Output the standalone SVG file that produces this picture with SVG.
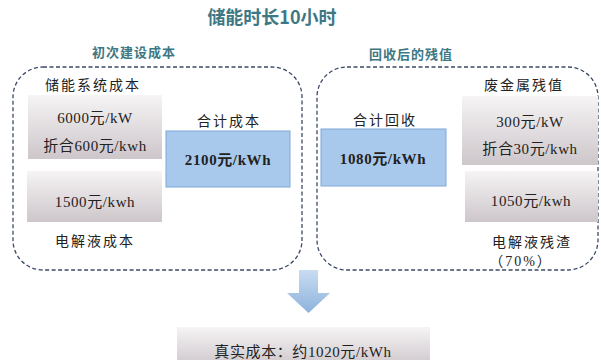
<svg xmlns="http://www.w3.org/2000/svg" width="601" height="360" viewBox="0 0 601 360">
<style>
.title{font-family:"Noto Sans CJK SC",sans-serif;font-weight:bold;fill:#3d7884;font-size:18px;text-anchor:middle}
.sub{font-family:"Noto Sans CJK SC",sans-serif;font-weight:bold;fill:#3d7884;font-size:13px;text-anchor:middle;letter-spacing:1px}
.t{font-family:"Liberation Serif","Noto Sans CJK SC",serif;fill:#222;font-size:15px;text-anchor:middle;letter-spacing:0.6px}
.lbl{font-family:"Liberation Serif","Noto Sans CJK SC",serif;fill:#222;font-size:14px;text-anchor:middle;letter-spacing:2px}
.b{font-weight:bold}
.dash{fill:none;stroke:#3b4a66;stroke-width:1.3;stroke-dasharray:4 2.5}
.gray{fill:url(#gg)}
.blue{fill:#a9c9ec;stroke:#7ea8d8;stroke-width:1}
</style>
<defs>
<linearGradient id="gg" x1="0" y1="0" x2="0" y2="1">
<stop offset="0" stop-color="#f6f4f5"/>
<stop offset="1" stop-color="#cdc6ca"/>
</linearGradient>
<linearGradient id="ag" x1="0" y1="0" x2="0" y2="1">
<stop offset="0" stop-color="#c9dcf1"/>
<stop offset="1" stop-color="#8db2dd"/>
</linearGradient>
</defs>
<rect width="601" height="360" fill="#ffffff"/>
<text class="title" x="272" y="24">储能时长10小时</text>
<text class="sub" x="134" y="57">初次建设成本</text>
<text class="sub" x="411" y="59">回收后的残值</text>

<g id="left-group">
<rect class="dash" x="13" y="67" width="289" height="203" rx="30"/>
<text class="lbl" x="93" y="90">储能系统成本</text>
<text class="lbl" x="95" y="246">电解液成本</text>
</g>
<g id="node-system">
<rect class="gray" x="28" y="95" width="134" height="64"/>
<text class="t" x="95" y="123">6000元/kW</text>
<text class="t" x="95" y="151">折合600元/kwh</text>
</g>
<g id="node-electrolyte">
<rect class="gray" x="27" y="171" width="135" height="51"/>
<text class="t" x="95" y="207">1500元/kwh</text>
</g>
<g id="node-total-cost">
<text class="lbl" x="229" y="126">合计成本</text>
<rect class="blue" x="166" y="131" width="124" height="56"/>
<text class="t b" x="228" y="165">2100元/kWh</text>
</g>

<g id="right-group">
<rect class="dash" x="317" y="67" width="281" height="203" rx="30"/>
<text class="lbl" x="524" y="90">废金属残值</text>
<text class="lbl" x="532" y="247">电解液残渣</text>
<text class="lbl" x="521" y="266">（70%）</text>
</g>
<g id="node-total-recover">
<text class="lbl" x="385" y="125">合计回收</text>
<rect class="blue" x="321" y="129" width="125" height="57"/>
<text class="t b" x="383" y="164">1080元/kWh</text>
</g>
<g id="node-metal">
<rect class="gray" x="462" y="96" width="136" height="69"/>
<text class="t" x="530" y="127">300元/kW</text>
<text class="t" x="530" y="154">折合30元/kwh</text>
</g>
<g id="node-residue">
<rect class="gray" x="465" y="171" width="133" height="51"/>
<text class="t" x="531" y="206">1050元/kwh</text>
</g>

<g id="connectors">
<polygon points="299,270 318,270 318,293 330,293 308.5,313 287,293 299,293" fill="url(#ag)"/>
</g>

<g id="node-real">
<rect class="gray" x="177" y="327" width="253" height="40"/>
<text class="t" x="303" y="357">真实成本：约1020元/kWh</text>
</g>
</svg>
